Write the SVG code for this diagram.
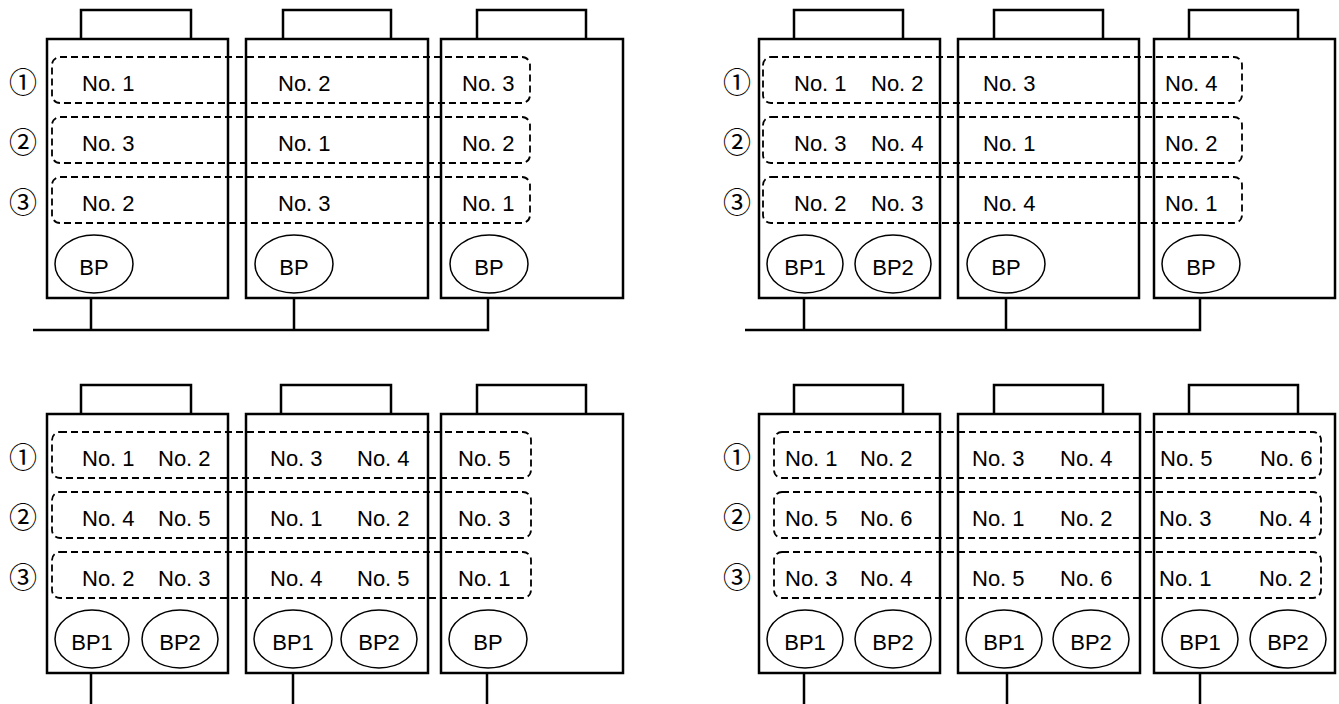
<svg xmlns="http://www.w3.org/2000/svg" width="1339" height="704" viewBox="0 0 1339 704">
<style>
.box{fill:none;stroke:#000;stroke-width:2.5}
.cap{fill:none;stroke:#000;stroke-width:2.5}
.dash{fill:none;stroke:#000;stroke-width:1.8;stroke-dasharray:7 4}
.bp{fill:none;stroke:#000;stroke-width:1.5}
.wire{fill:none;stroke:#000;stroke-width:2.5}
text{font-family:"Liberation Sans",Arial,sans-serif;font-size:22px;fill:#000}
.c{text-anchor:middle}
.num{font-family:"Noto Sans CJK JP","DejaVu Sans",sans-serif;font-size:28px;text-anchor:middle}
</style>

<!-- ===== Top-left panel ===== -->
<g id="tl-unit1">
<rect class="box" x="47" y="39" width="181" height="259"/>
<path class="cap" d="M81 39V10H191V39"/>
<text x="82" y="91">No. 1</text><text x="82" y="151">No. 3</text><text x="82" y="211">No. 2</text>
<ellipse class="bp" cx="94" cy="264" rx="39" ry="29"/><text class="c" x="94" y="275">BP</text>
</g>
<g id="tl-unit2">
<rect class="box" x="246" y="39" width="182" height="259"/>
<path class="cap" d="M283 39V10H391V39"/>
<text x="278" y="91">No. 2</text><text x="278" y="151">No. 1</text><text x="278" y="211">No. 3</text>
<ellipse class="bp" cx="294" cy="264" rx="39" ry="29"/><text class="c" x="294" y="275">BP</text>
</g>
<g id="tl-unit3">
<rect class="box" x="441" y="39" width="182" height="259"/>
<path class="cap" d="M477 39V10H586V39"/>
<text x="462" y="91">No. 3</text><text x="462" y="151">No. 2</text><text x="462" y="211">No. 1</text>
<ellipse class="bp" cx="489" cy="264" rx="39" ry="29"/><text class="c" x="489" y="275">BP</text>
</g>
<g id="tl-rows">
<rect class="dash" x="52" y="57" width="478" height="46" rx="8"/>
<rect class="dash" x="52" y="117" width="478" height="46" rx="8"/>
<rect class="dash" x="52" y="177" width="478" height="46" rx="8"/>
<text class="num" x="23" y="93">①</text><text class="num" x="23" y="153">②</text><text class="num" x="23" y="213">③</text>
</g>

<!-- ===== Top-right panel ===== -->
<g id="tr-unit1">
<rect class="box" x="759" y="39" width="181" height="259"/>
<path class="cap" d="M794 39V10H903V39"/>
<text x="794" y="91">No. 1</text><text x="871" y="91">No. 2</text>
<text x="794" y="151">No. 3</text><text x="871" y="151">No. 4</text>
<text x="794" y="211">No. 2</text><text x="871" y="211">No. 3</text>
<ellipse class="bp" cx="805" cy="264" rx="38" ry="29"/><text class="c" x="805" y="275">BP1</text>
<ellipse class="bp" cx="893" cy="264" rx="38" ry="29"/><text class="c" x="893" y="275">BP2</text>
</g>
<g id="tr-unit2">
<rect class="box" x="958" y="39" width="181" height="259"/>
<path class="cap" d="M994 39V10H1103V39"/>
<text x="983" y="91">No. 3</text><text x="983" y="151">No. 1</text><text x="983" y="211">No. 4</text>
<ellipse class="bp" cx="1006" cy="264" rx="39" ry="29"/><text class="c" x="1006" y="275">BP</text>
</g>
<g id="tr-unit3">
<rect class="box" x="1154" y="39" width="181" height="259"/>
<path class="cap" d="M1189 39V10H1298V39"/>
<text x="1165" y="91">No. 4</text><text x="1165" y="151">No. 2</text><text x="1165" y="211">No. 1</text>
<ellipse class="bp" cx="1201" cy="264" rx="39" ry="29"/><text class="c" x="1201" y="275">BP</text>
</g>
<g id="tr-rows">
<rect class="dash" x="763" y="57" width="479" height="46" rx="8"/>
<rect class="dash" x="763" y="117" width="479" height="46" rx="8"/>
<rect class="dash" x="763" y="177" width="479" height="46" rx="8"/>
<text class="num" x="737" y="93">①</text><text class="num" x="737" y="153">②</text><text class="num" x="737" y="213">③</text>
</g>

<!-- ===== Bottom-left panel ===== -->
<g id="bl-unit1">
<rect class="box" x="47" y="414" width="181" height="259"/>
<path class="cap" d="M81 414V385H191V414"/>
<text x="82" y="466">No. 1</text><text x="158" y="466">No. 2</text>
<text x="82" y="526">No. 4</text><text x="158" y="526">No. 5</text>
<text x="82" y="586">No. 2</text><text x="158" y="586">No. 3</text>
<ellipse class="bp" cx="92" cy="639" rx="37" ry="29"/><text class="c" x="92" y="650">BP1</text>
<ellipse class="bp" cx="180" cy="639" rx="38" ry="29"/><text class="c" x="180" y="650">BP2</text>
</g>
<g id="bl-unit2">
<rect class="box" x="246" y="414" width="182" height="259"/>
<path class="cap" d="M281 414V385H391V414"/>
<text x="270" y="466">No. 3</text><text x="357" y="466">No. 4</text>
<text x="270" y="526">No. 1</text><text x="357" y="526">No. 2</text>
<text x="270" y="586">No. 4</text><text x="357" y="586">No. 5</text>
<ellipse class="bp" cx="293" cy="639" rx="39" ry="29"/><text class="c" x="293" y="650">BP1</text>
<ellipse class="bp" cx="379" cy="639" rx="38" ry="29"/><text class="c" x="379" y="650">BP2</text>
</g>
<g id="bl-unit3">
<rect class="box" x="441" y="414" width="182" height="259"/>
<path class="cap" d="M477 414V385H586V414"/>
<text x="458" y="466">No. 5</text><text x="458" y="526">No. 3</text><text x="458" y="586">No. 1</text>
<ellipse class="bp" cx="488" cy="639" rx="39" ry="29"/><text class="c" x="488" y="650">BP</text>
</g>
<g id="bl-rows">
<rect class="dash" x="52" y="432" width="479" height="46" rx="8"/>
<rect class="dash" x="52" y="492" width="479" height="46" rx="8"/>
<rect class="dash" x="52" y="552" width="479" height="46" rx="8"/>
<text class="num" x="23" y="468">①</text><text class="num" x="23" y="528">②</text><text class="num" x="23" y="588">③</text>
</g>

<!-- ===== Bottom-right panel ===== -->
<g id="br-unit1">
<rect class="box" x="759" y="414" width="181" height="259"/>
<path class="cap" d="M794 414V385H903V414"/>
<text x="785" y="466">No. 1</text><text x="860" y="466">No. 2</text>
<text x="785" y="526">No. 5</text><text x="860" y="526">No. 6</text>
<text x="785" y="586">No. 3</text><text x="860" y="586">No. 4</text>
<ellipse class="bp" cx="805" cy="639" rx="38" ry="29"/><text class="c" x="805" y="650">BP1</text>
<ellipse class="bp" cx="893" cy="639" rx="38" ry="29"/><text class="c" x="893" y="650">BP2</text>
</g>
<g id="br-unit2">
<rect class="box" x="958" y="414" width="182" height="259"/>
<path class="cap" d="M994 414V385H1103V414"/>
<text x="972" y="466">No. 3</text><text x="1060" y="466">No. 4</text>
<text x="972" y="526">No. 1</text><text x="1060" y="526">No. 2</text>
<text x="972" y="586">No. 5</text><text x="1060" y="586">No. 6</text>
<ellipse class="bp" cx="1004" cy="639" rx="38" ry="29"/><text class="c" x="1004" y="650">BP1</text>
<ellipse class="bp" cx="1091" cy="639" rx="38" ry="29"/><text class="c" x="1091" y="650">BP2</text>
</g>
<g id="br-unit3">
<rect class="box" x="1154" y="414" width="181" height="259"/>
<path class="cap" d="M1189 414V385H1298V414"/>
<text x="1160" y="466">No. 5</text><text x="1260" y="466">No. 6</text>
<text x="1159" y="526">No. 3</text><text x="1259" y="526">No. 4</text>
<text x="1159" y="586">No. 1</text><text x="1259" y="586">No. 2</text>
<ellipse class="bp" cx="1200" cy="639" rx="38" ry="29"/><text class="c" x="1200" y="650">BP1</text>
<ellipse class="bp" cx="1288" cy="639" rx="38" ry="29"/><text class="c" x="1288" y="650">BP2</text>
</g>
<g id="br-rows">
<rect class="dash" x="774" y="432" width="547" height="46" rx="8"/>
<rect class="dash" x="774" y="492" width="547" height="46" rx="8"/>
<rect class="dash" x="774" y="552" width="547" height="46" rx="8"/>
<text class="num" x="737" y="468">①</text><text class="num" x="737" y="528">②</text><text class="num" x="737" y="588">③</text>
</g>

<!-- ===== Connectors ===== -->
<g id="connectors">
<path class="wire" d="M33 330H488V298M91 298V330M294 298V330"/>
<path class="wire" d="M745 330H1200V298M804 298V330M1006 298V330"/>
<path class="wire" d="M91 673V704M293 673V704M487 673V704"/>
<path class="wire" d="M804 673V704M1007 673V704M1200 673V704"/>
</g>
</svg>
